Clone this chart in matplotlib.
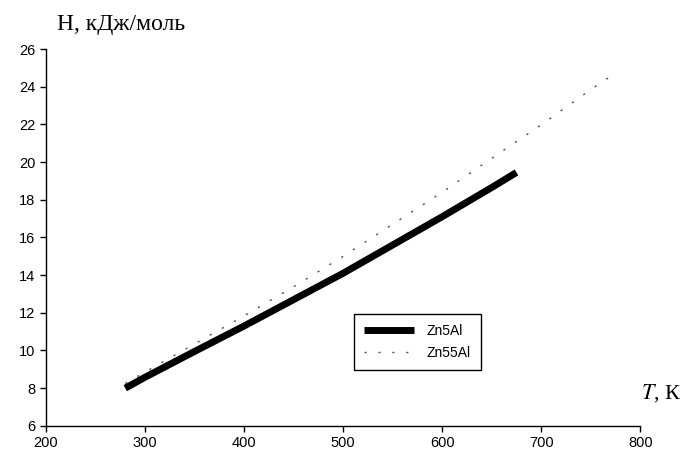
import numpy as np
import matplotlib.pyplot as plt

# Теплосодержание сплавов
T_zn5 = [280, 300, 350, 400, 450, 500, 550, 600, 650, 675]
H_zn5 = [8.0, 8.58, 9.95, 11.3, 12.7, 14.1, 15.6, 17.1, 18.65, 19.45]

T_zn55 = [280, 300, 350, 400, 450, 500, 550, 600, 650, 700, 750, 770]
H_zn55 = [8.25, 8.85, 10.35, 11.84, 13.38, 15.0, 16.7, 18.4, 20.2, 21.98, 23.85, 24.55]

xticks = [200, 300, 400, 500, 600, 700, 800]
yticks = [6, 8, 10, 12, 14, 16, 18, 20, 22, 24, 26]

plt.rcParams['font.family'] = ['Liberation Sans', 'DejaVu Sans']

fig = plt.figure(figsize=(6.87, 4.54), dpi=100)
ax = fig.add_axes([0.067, 0.062, 0.865, 0.830])

ax.plot(T_zn5, H_zn5, color='black', linewidth=5, solid_capstyle='butt', label='Zn5Al')
ax.plot(T_zn55, H_zn55, color='#555555', linewidth=1.0, linestyle=(0, (1.6, 8.4)), label='Zn55Al')

ax.set_xlim(200, 800)
ax.set_ylim(6, 26)
ax.set_xticks(xticks)
ax.set_yticks(yticks)
ax.tick_params(direction='out', length=4, width=1, labelsize=10.5, colors='black')
for s in ['top', 'right']:
    ax.spines[s].set_visible(False)
for s in ['left', 'bottom']:
    ax.spines[s].set_linewidth(1)

fig.text(0.083, 0.945, 'H, кДж/моль', family='Liberation Serif', fontsize=17, va='center', ha='left')
fig.text(0.933, 0.134, '$T$, К', family='Liberation Serif', fontsize=16, va='center', ha='left',
         math_fontfamily='stix')

leg = ax.legend(loc='upper left', bbox_to_anchor=(0.519, 0.297), fontsize=10,
                frameon=True, fancybox=False, edgecolor='black', framealpha=1,
                handlelength=3.6, borderpad=0.7, labelspacing=0.6, handletextpad=0.9,
                borderaxespad=0)
leg.get_frame().set_linewidth(1)

plt.savefig('out.png', dpi=100)
